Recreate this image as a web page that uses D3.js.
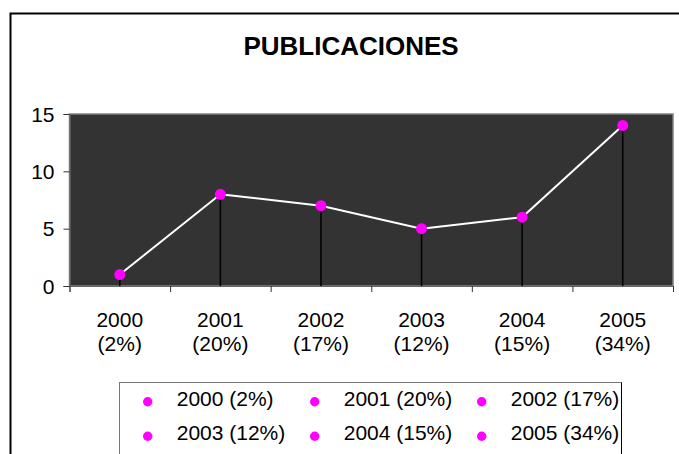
<!DOCTYPE html>
<html lang="es">
<head>
<meta charset="UTF-8">
<title>PUBLICACIONES</title>
<script src="https://cdn.jsdelivr.net/npm/d3@7"></script>
<style>
    body { margin: 0; background: #fff; }
    svg { display: block; font-family: "Liberation Sans", Arial, sans-serif; }
</style>
</head>
<body>
<script>
    const years = ["2000", "2001", "2002", "2003", "2004", "2005"];
    const shares = ["2%", "20%", "17%", "12%", "15%", "34%"];
    const values = [1, 8, 7, 5, 6, 14];
    const yTicks = [0, 5, 10, 15];

    const width = 679;
    const height = 454;
    const plotLeft = 69.5;
    const plotRight = 673;
    const plotTop = 114;
    const plotBottom = 286;

    const svg = d3.select("body").append("svg")
        .attr("width", width)
        .attr("height", height);

    // outer chart border (runs off the right/bottom of the picture)
    svg.append("rect")
        .attr("x", 10.5).attr("y", 13.5)
        .attr("width", 700).attr("height", 480)
        .attr("fill", "#fff")
        .attr("stroke", "#000")
        .attr("stroke-width", 2);

    svg.append("text")
        .attr("x", 351).attr("y", 55)
        .attr("text-anchor", "middle")
        .attr("font-size", 26)
        .attr("font-weight", "bold")
        .text("PUBLICACIONES");

    const x = d3.scaleBand()
        .domain(years)
        .range([plotLeft, plotRight]);

    const y = d3.scaleLinear()
        .domain([0, 15])
        .range([plotBottom, plotTop]);

    // plot area
    svg.append("rect")
        .attr("x", plotLeft).attr("y", plotTop)
        .attr("width", plotRight - plotLeft)
        .attr("height", plotBottom - plotTop)
        .attr("fill", "#333333")
        .attr("stroke", "#808080")
        .attr("stroke-width", 1.5);

    // y axis
    const yAxis = svg.append("g")
        .attr("transform", `translate(${plotLeft},0)`)
        .call(d3.axisLeft(y).tickValues(yTicks).tickSize(6).tickPadding(9));
    yAxis.select(".domain").attr("stroke", "#666");
    yAxis.selectAll(".tick line").attr("stroke", "#333");
    yAxis.selectAll(".tick text")
        .attr("font-size", 21)
        .attr("font-family", "Liberation Sans, Arial, sans-serif")
        .attr("fill", "#000")
        .attr("dy", "0.34em");

    // x axis: ticks between categories
    const edges = d3.scaleLinear().domain([0, years.length]).range([plotLeft, plotRight]);
    const xTickAxis = svg.append("g")
        .attr("transform", `translate(0,${plotBottom})`)
        .call(d3.axisBottom(edges).tickValues(d3.range(years.length + 1)).tickSize(6).tickFormat(""));
    xTickAxis.select(".domain").attr("stroke", "#666");
    xTickAxis.selectAll(".tick line").attr("stroke", "#333");

    // x labels, two lines
    const xLabels = svg.append("g")
        .attr("transform", `translate(0,${plotBottom})`)
        .call(d3.axisBottom(x).tickSize(0).tickFormat(""));
    xLabels.select(".domain").remove();
    xLabels.selectAll(".tick text").remove();
    xLabels.selectAll(".tick").each(function (d, i) {
        const t = d3.select(this).append("text")
            .attr("text-anchor", "middle")
            .attr("font-size", 21)
            .attr("fill", "#000");
        t.append("tspan").attr("x", 0).attr("y", 40.7).text(d);
        t.append("tspan").attr("x", 0).attr("y", 64.7).text(`(${shares[i]})`);
    });

    const cx = d => x(d) + x.bandwidth() / 2;

    // drop lines
    svg.append("g")
        .selectAll("line")
        .data(years)
        .join("line")
        .attr("x1", cx).attr("x2", cx)
        .attr("y1", (d, i) => y(values[i]))
        .attr("y2", y(0))
        .attr("stroke", "#000")
        .attr("stroke-width", 1.5);

    const line = d3.line()
        .x((d, i) => cx(years[i]))
        .y(d => y(d));

    svg.append("path")
        .datum(values)
        .attr("d", line)
        .attr("fill", "none")
        .attr("stroke", "#fff")
        .attr("stroke-width", 2);

    svg.append("g")
        .selectAll("circle")
        .data(values)
        .join("circle")
        .attr("cx", (d, i) => cx(years[i]))
        .attr("cy", d => y(d))
        .attr("r", 5.5)
        .attr("fill", "#ff00ff");

    // legend
    const legend = svg.append("g");
    legend.append("rect")
        .attr("x", 119.5).attr("y", 382.5)
        .attr("width", 502).attr("height", 100)
        .attr("fill", "#fff")
        .attr("stroke", "#777")
        .attr("stroke-width", 1);
    legend.append("line")
        .attr("x1", 621.5).attr("x2", 621.5)
        .attr("y1", 382.5).attr("y2", 482.5)
        .attr("stroke", "#000");

    const legendItems = legend.selectAll("g.item")
        .data(years)
        .join("g")
        .attr("class", "item")
        .attr("transform", (d, i) => `translate(${147.7 + (i % 3) * 167},${401.7 + Math.floor(i / 3) * 34.5})`);

    legendItems.append("circle")
        .attr("r", 4.7)
        .attr("fill", "#ff00ff");

    legendItems.append("text")
        .attr("x", 29)
        .attr("y", 4)
        .attr("font-size", 21)
        .attr("fill", "#000")
        .text((d, i) => `${d} (${shares[i]})`);
</script>
</body>
</html>
